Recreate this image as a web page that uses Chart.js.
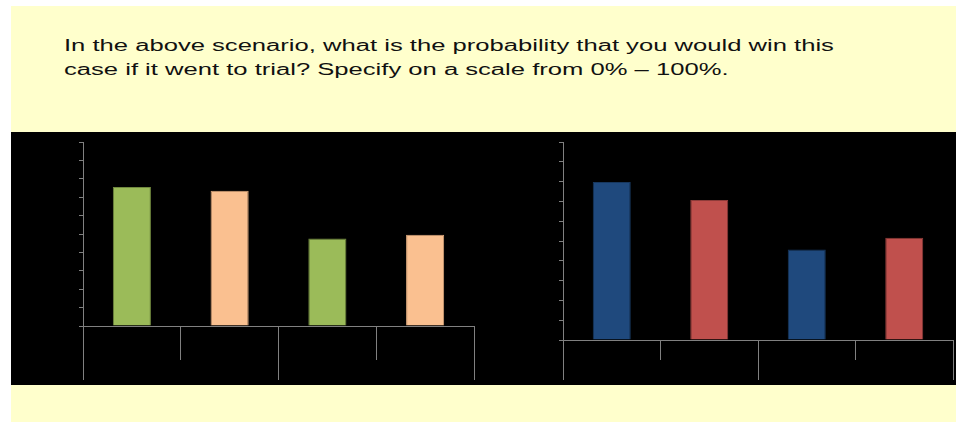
<!DOCTYPE html>
<html>
<head>
<meta charset="utf-8">
<script src="https://cdn.jsdelivr.net/npm/chart.js"></script>
<style>
  body { margin: 0; background: #fff; width: 956px; height: 422px; overflow: hidden; position: relative; }
  #slide { position: absolute; left: 11px; top: 6px; width: 945px; height: 416px; background: #FFFFCC; }
  #question { position: absolute; left: 64px; top: 33.5px; font-family: "Liberation Sans", Arial, sans-serif;
    font-size: 16px; line-height: 24px; color: #111; white-space: nowrap;
    transform: scaleX(1.6); transform-origin: left top; }
  #panel { position: absolute; left: 11px; top: 132px; width: 945px; height: 253px; background: #000; }
  .box { position: absolute; top: 132px; height: 253px; }
  #leftBox { left: 11px; width: 470px; }
  #rightBox { left: 481px; width: 475px; }
</style>
</head>
<body>
<div id="slide"></div>
<div id="question">In the above scenario, what is the probability that you would win this<br>case if it went to trial? Specify on a scale from 0% &ndash; 100%.</div>
<div id="panel"></div>
<div class="box" id="leftBox"><canvas id="leftChart"></canvas></div>
<div class="box" id="rightBox"><canvas id="rightChart"></canvas></div>
<script>
// categories (labels are black on black in the original, so not shown)
var subLabels = ['Case 1 A', 'Case 1 B', 'Case 2 A', 'Case 2 B'];
var groupLabels = ['Case 1', 'Case 2'];
var yTicks = [0, 10, 20, 30, 40, 50, 60, 70, 80, 90, 100];

// probability of winning, percent
var leftValues = [75.5, 73.5, 47.6, 49.6];
var rightValues = [79.8, 70.7, 45.7, 51.7];

var leftColors = ['#9BBB59', '#FAC090', '#9BBB59', '#FAC090'];
var leftBorders = ['#71893F', '#D9A57A', '#71893F', '#D9A57A'];
var rightColors = ['#1F497D', '#C0504D', '#1F497D', '#C0504D'];
var rightBorders = ['#17375E', '#8E3B39', '#17375E', '#8E3B39'];

var axisGrey = '#808080';

function makeChart(id, values, colors, borders, pad, shortTick, longTick) {
  return new Chart(document.getElementById(id), {
    type: 'bar',
    data: {
      labels: subLabels,
      datasets: [{
        data: values,
        backgroundColor: colors,
        borderColor: borders,
        borderWidth: 1,
        categoryPercentage: 1,
        barPercentage: 0.39,
        xAxisID: 'x'
      }]
    },
    options: {
      responsive: true,
      maintainAspectRatio: false,
      animation: false,
      layout: { padding: pad },
      plugins: { legend: { display: false }, tooltip: { enabled: false } },
      scales: {
        y: {
          min: yTicks[0],
          max: yTicks[yTicks.length - 1],
          afterBuildTicks: function (axis) { axis.ticks = yTicks.map(function (v) { return { value: v }; }); },
          ticks: { display: false },
          grid: { drawOnChartArea: false, tickLength: 4, color: axisGrey },
          border: { color: axisGrey }
        },
        x: {
          position: 'bottom',
          weight: 0,
          ticks: { display: false },
          grid: { drawOnChartArea: false, offset: true, tickLength: shortTick, color: axisGrey },
          border: { color: axisGrey }
        },
        group: {
          type: 'category',
          labels: groupLabels,
          position: 'bottom',
          weight: 1,
          offset: true,
          ticks: { display: false },
          grid: { drawOnChartArea: false, offset: true, tickLength: longTick - shortTick, color: axisGrey },
          border: { display: false }
        }
      }
    }
  });
}

makeChart('leftChart', leftValues, leftColors, leftBorders,
  { left: 68, right: 7, top: 10, bottom: 5 }, 34, 54);
makeChart('rightChart', rightValues, rightColors, rightBorders,
  { left: 78, right: 3, top: 10, bottom: 5 }, 20, 40);
</script>
</body>
</html>
